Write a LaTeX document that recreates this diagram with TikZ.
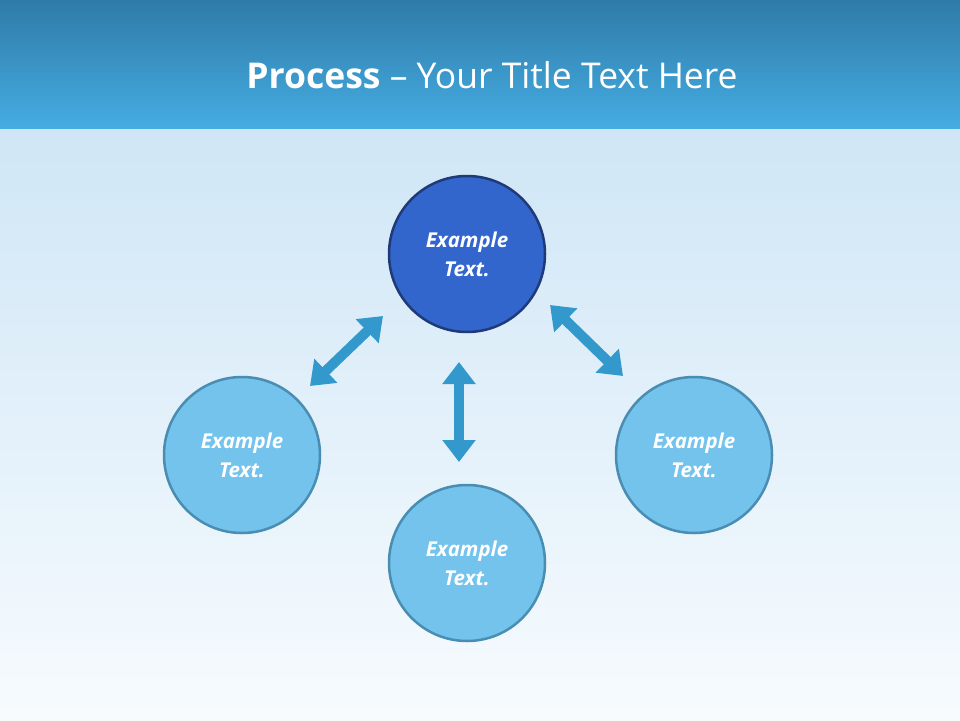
\documentclass[tikz,border=0pt]{standalone}
\usepackage{fontspec}
\setmainfont{Open Sans}
\usetikzlibrary{arrows.meta}
\definecolor{barTop}{HTML}{2F7BA8}
\definecolor{barBot}{HTML}{45ACE2}
\definecolor{bgTop}{HTML}{CFE6F6}
\definecolor{bgBot}{HTML}{F7FBFE}
\definecolor{darkC}{HTML}{3366CC}
\definecolor{darkB}{HTML}{1F3A78}
\definecolor{lightC}{HTML}{73C3EC}
\definecolor{lightB}{HTML}{4A8DB2}
\definecolor{arr}{HTML}{3399CC}
\tikzset{
 circ/.style={circle,minimum size=156pt,line width=2.5pt,text=white,font=\bfseries\itshape\fontsize{20.5}{29}\selectfont,align=center,inner sep=0pt},
 dark/.style={circ,fill=darkC,draw=darkB},
 light/.style={circ,fill=lightC,draw=lightB},
 darr/.style={arr,line width=10pt,{Triangle[width=32pt,length=22pt]}-{Triangle[width=32pt,length=22pt]}}
}
\begin{document}
\begin{tikzpicture}[x=1pt,y=-1pt]
\useasboundingbox (0,0) rectangle (960,720);
\shade[top color=bgTop,bottom color=bgBot] (0,125) rectangle (960,720);
\shade[top color=barTop,bottom color=barBot] (0,0) rectangle (960,128);
\node[text=white,font=\fontsize{35.5}{42}\selectfont] (title) at (492,75) {\textbf{Process} – Your Title Text Here};
\node[dark] (c1) at (467,254) {Example\\Text.};
\node[light] (c2) at (242,455) {Example\\Text.};
\node[light] (c3) at (467,563) {Example\\Text.};
\node[light] (c4) at (694,455) {Example\\Text.};
\coordinate (a1) at (310,386); \coordinate (b1) at (383,316);
\coordinate (a2) at (459,362); \coordinate (b2) at (459,462);
\coordinate (a3) at (550,305); \coordinate (b3) at (623,376);
\draw[darr] (a1) -- (b1);
\draw[darr] (a2) -- (b2);
\draw[darr] (a3) -- (b3);
\end{tikzpicture}
\end{document}
